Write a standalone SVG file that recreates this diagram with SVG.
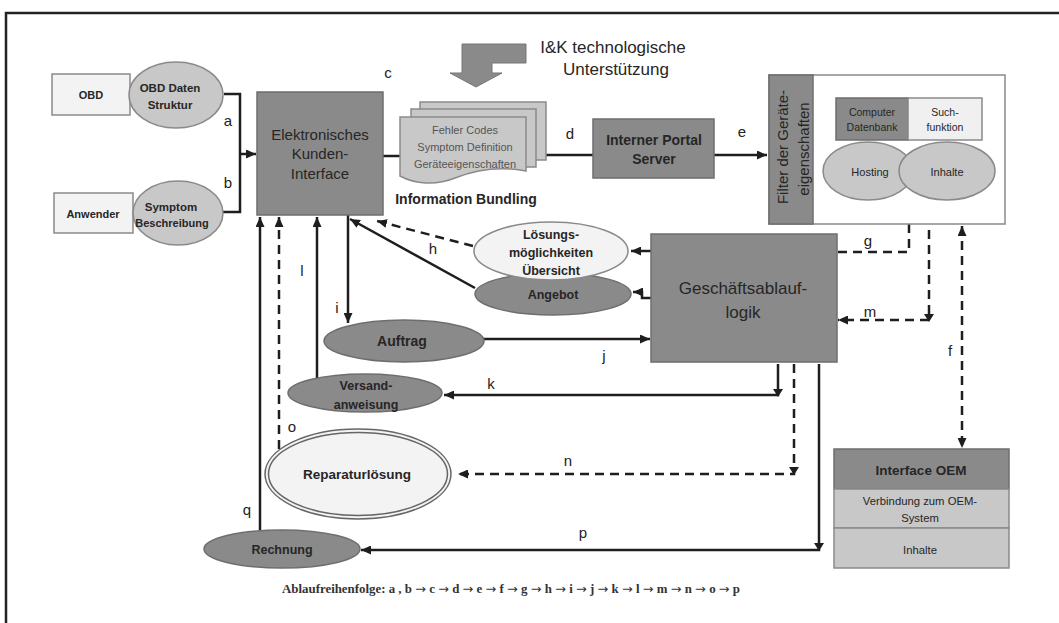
<svg xmlns="http://www.w3.org/2000/svg" width="1059" height="623" viewBox="0 0 1059 623">
<style>
text{font-family:"Liberation Sans",Arial,sans-serif;fill:#262626}
.dark{fill:#8a8a8a;stroke:#6e6e6e;stroke-width:1.5}
.mid{fill:#c8c8c8;stroke:#8a8a8a;stroke-width:1.5}
.lite{fill:#f3f3f3;stroke:#8a8a8a;stroke-width:1.5}
.b{font-weight:bold}
.m{text-anchor:middle}
.lbl{font-size:15px;fill:#222;text-anchor:middle}
.small{font-size:11px;fill:#555;text-anchor:middle}
.ln{fill:none;stroke:#1e1e1e;stroke-width:2.5}
.ds{fill:none;stroke:#1e1e1e;stroke-width:2.5;stroke-dasharray:9 6}
.tri{fill:#1e1e1e}
.ar{font-family:"DejaVu Sans",sans-serif;font-weight:normal}
</style>
<defs>
<marker id="arr" markerUnits="userSpaceOnUse" markerWidth="11" markerHeight="9" refX="10" refY="4.5" orient="auto-start-reverse">
<path d="M0,0 L10,4.5 L0,9 Z" fill="#1e1e1e"/>
</marker>
</defs>
<rect width="1059" height="623" fill="#fff"/>
<g id="frame"><path d="M6,623 V13 H1059" fill="none" stroke="#222" stroke-width="2.5"/></g>

<g id="connectors">
<path class="ln" d="M224,94 H240 V212 H223"/>
<path class="ln" d="M240,154 H256" marker-end="url(#arr)"/>
<path class="ln" d="M383,156 H400"/>
<path class="ln" d="M546,155 H593"/>
<path class="ln" d="M714,155 H767" marker-end="url(#arr)"/>
<path class="ds" d="M909,224 V252 H837"/>
<path class="ds" d="M929,230 V320 H838" marker-end="url(#arr)"/>
<path class="tri" d="M924,314 L934,314 L929,322 Z"/>
<path class="ds" d="M962,226 V448" marker-start="url(#arr)" marker-end="url(#arr)"/>
<path class="ln" d="M651,251 H631" marker-end="url(#arr)"/>
<path class="ln" d="M651,298 H642 V292 H633" marker-end="url(#arr)"/>
<path class="ds" d="M473,246 L377,221" marker-end="url(#arr)"/>
<path class="ln" d="M475,288 L350,219" marker-end="url(#arr)"/>
<path class="ln" d="M348,215 V323" marker-end="url(#arr)"/>
<path class="ln" d="M483,339 H650" marker-end="url(#arr)"/>
<path class="ln" d="M778,364 V395 H444" marker-end="url(#arr)"/>
<path class="tri" d="M773,389 L783,389 L778,397 Z"/>
<path class="ln" d="M317,379 V217" marker-end="url(#arr)"/>
<path class="ds" d="M279,449 V217" marker-end="url(#arr)"/>
<path class="ln" d="M260,532 V217" marker-end="url(#arr)"/>
<path class="ds" d="M794,364 V474 H458" marker-end="url(#arr)"/>
<path class="tri" d="M789,467 L799,467 L794,475 Z"/>
<path class="ln" d="M819,364 V550 H361" marker-end="url(#arr)"/>
<path class="tri" d="M814,543 L824,543 L819,551 Z"/>
<text class="lbl" x="228" y="126">a</text>
<text class="lbl" x="228" y="188">b</text>
<text class="lbl" x="388" y="78">c</text>
<text class="lbl" x="570" y="139">d</text>
<text class="lbl" x="742" y="137">e</text>
<text class="lbl" x="950" y="356">f</text>
<text class="lbl" x="868" y="246">g</text>
<text class="lbl" x="433" y="254">h</text>
<text class="lbl" x="337" y="313">i</text>
<text class="lbl" x="604" y="361">j</text>
<text class="lbl" x="491" y="389">k</text>
<text class="lbl" x="302" y="276">l</text>
<text class="lbl" x="870" y="317">m</text>
<text class="lbl" x="568" y="466">n</text>
<text class="lbl" x="292" y="432">o</text>
<text class="lbl" x="583" y="538">p</text>
<text class="lbl" x="247" y="515">q</text>
</g>

<g id="obd">
<rect x="52" y="74" width="78" height="41" class="lite"/>
<text x="91" y="99" class="b m" font-size="11">OBD</text>
</g>
<g id="obd-daten">
<ellipse cx="176" cy="95" rx="47" ry="33" class="mid"/>
<text x="170" y="92" class="b m" font-size="11.5">OBD Daten</text>
<text x="170" y="109" class="b m" font-size="11.5">Struktur</text>
</g>
<g id="anwender">
<rect x="54" y="193" width="79" height="40" class="lite"/>
<text x="93" y="218" class="b m" font-size="11">Anwender</text>
</g>
<g id="symptom">
<ellipse cx="178" cy="213" rx="45" ry="32" class="mid"/>
<text x="171" y="211" class="b m" font-size="11.5">Symptom</text>
<text x="172" y="227" class="b m" font-size="11">Beschreibung</text>
</g>
<g id="eki">
<rect x="257" y="92" width="126" height="123" class="dark"/>
<text x="320" y="140" class="m" font-size="15">Elektronisches</text>
<text x="320" y="159" class="m" font-size="15">Kunden-</text>
<text x="320" y="179" class="m" font-size="15">Interface</text>
</g>
<g id="ik">
<polygon points="462,44 526,44 526,63 492,63 492,73 502,73 476,87 450,73 462,73" fill="#8a8a8a" stroke="#777" stroke-width="1"/>
<text x="613" y="53" class="m" font-size="17">I&amp;K technologische</text>
<text x="616" y="75" class="m" font-size="17">Unterstützung</text>
</g>
<g id="bundling">
<rect x="420" y="102" width="126" height="58" class="mid" stroke="#777"/>
<rect x="411" y="109" width="125" height="58" class="mid" stroke="#777"/>
<path d="M400,117 H526 V171 C495,165 470,172 455,178 C435,186 415,184 400,176 Z" class="mid" stroke="#777"/>
<text x="465" y="134" class="small">Fehler Codes</text>
<text x="465" y="151" class="small">Symptom Definition</text>
<text x="465" y="168" class="small">Geräteeigenschaften</text>
<text x="466" y="204" class="b m" font-size="14">Information Bundling</text>
</g>
<g id="portal">
<rect x="593" y="119" width="121" height="59" class="dark"/>
<text x="654" y="145" class="b m" font-size="14">Interner Portal</text>
<text x="654" y="164" class="b m" font-size="14">Server</text>
</g>
<g id="filter">
<rect x="769" y="75" width="236" height="149" fill="#fff" stroke="#8a8a8a" stroke-width="1.5"/>
<rect x="769" y="75" width="44" height="149" class="dark"/>
<text transform="translate(788,147) rotate(-90)" class="m" font-size="15">Filter der Geräte-</text>
<text transform="translate(809,149) rotate(-90)" class="m" font-size="15">eigenschaften</text>
<rect x="836" y="98" width="72" height="42" class="dark"/>
<rect x="908" y="98" width="74" height="42" fill="#f0f0f0" stroke="#8a8a8a" stroke-width="1.5"/>
<text x="872" y="116" class="m" font-size="10.5" fill="#444">Computer</text>
<text x="872" y="131" class="m" font-size="10.5" fill="#444">Datenbank</text>
<text x="945" y="116" class="m" font-size="10.5" fill="#444">Such-</text>
<text x="945" y="131" class="m" font-size="10.5" fill="#444">funktion</text>
<ellipse cx="868" cy="171" rx="45" ry="29" class="mid"/>
<ellipse cx="947" cy="171" rx="48" ry="29" class="mid"/>
<text x="870" y="176" class="m" font-size="11" fill="#444">Hosting</text>
<text x="947" y="176" class="m" font-size="11" fill="#444">Inhalte</text>
</g>
<g id="logik">
<rect x="651" y="234" width="186" height="128" class="dark"/>
<text x="743" y="294" class="m" font-size="17">Geschäftsablauf-</text>
<text x="743" y="318" class="m" font-size="17">logik</text>
</g>
<g id="angebot">
<ellipse cx="553" cy="294" rx="78" ry="21" class="dark"/>
<text x="553" y="299" class="b m" font-size="12.5">Angebot</text>
</g>
<g id="loesungen">
<ellipse cx="551" cy="251" rx="77" ry="29" class="lite"/>
<text x="551" y="239" class="b m" font-size="12.5">Lösungs-</text>
<text x="551" y="257" class="b m" font-size="12.5">möglichkeiten</text>
<text x="551" y="275" class="b m" font-size="12.5">Übersicht</text>
</g>
<g id="auftrag">
<ellipse cx="404" cy="341" rx="80" ry="21" class="dark"/>
<text x="402" y="346" class="b m" font-size="14">Auftrag</text>
</g>
<g id="versand">
<ellipse cx="365" cy="393" rx="77" ry="19" class="dark"/>
<text x="366" y="390" class="b m" font-size="12.5">Versand-</text>
<text x="366" y="409" class="b m" font-size="12.5">anweisung</text>
</g>
<g id="reparatur">
<ellipse cx="358" cy="474" rx="93" ry="45" fill="#f3f3f3" stroke="#666" stroke-width="1.5"/>
<ellipse cx="358" cy="474" rx="89.5" ry="41.5" fill="none" stroke="#666" stroke-width="1.5"/>
<text x="357" y="479" class="b m" font-size="13.5">Reparaturlösung</text>
</g>
<g id="rechnung">
<ellipse cx="282" cy="549" rx="78" ry="19" class="dark"/>
<text x="282" y="554" class="b m" font-size="12.5">Rechnung</text>
</g>
<g id="oem">
<rect x="834" y="449" width="175" height="40" class="dark"/>
<rect x="834" y="489" width="175" height="39" class="mid"/>
<rect x="834" y="528" width="175" height="40" class="mid"/>
<text x="921" y="475" class="b m" font-size="13.5">Interface OEM</text>
<text x="920" y="505" class="m" font-size="11.3" fill="#444">Verbindung zum OEM-</text>
<text x="920" y="522" class="m" font-size="11.3" fill="#444">System</text>
<text x="920" y="554" class="m" font-size="11.3" fill="#444">Inhalte</text>
</g>
<g id="footer">
<text x="511" y="593" text-anchor="middle" font-size="12.5" textLength="458" lengthAdjust="spacingAndGlyphs" style="font-family:'Liberation Serif','Times New Roman',serif;font-weight:bold;fill:#333">Ablaufreihenfolge: a , b <tspan class="ar">→</tspan> c <tspan class="ar">→</tspan> d <tspan class="ar">→</tspan> e <tspan class="ar">→</tspan> f <tspan class="ar">→</tspan> g <tspan class="ar">→</tspan> h <tspan class="ar">→</tspan> i <tspan class="ar">→</tspan> j <tspan class="ar">→</tspan> k <tspan class="ar">→</tspan> l <tspan class="ar">→</tspan> m <tspan class="ar">→</tspan> n  <tspan class="ar">→</tspan> o <tspan class="ar">→</tspan> p</text>
</g>
</svg>
